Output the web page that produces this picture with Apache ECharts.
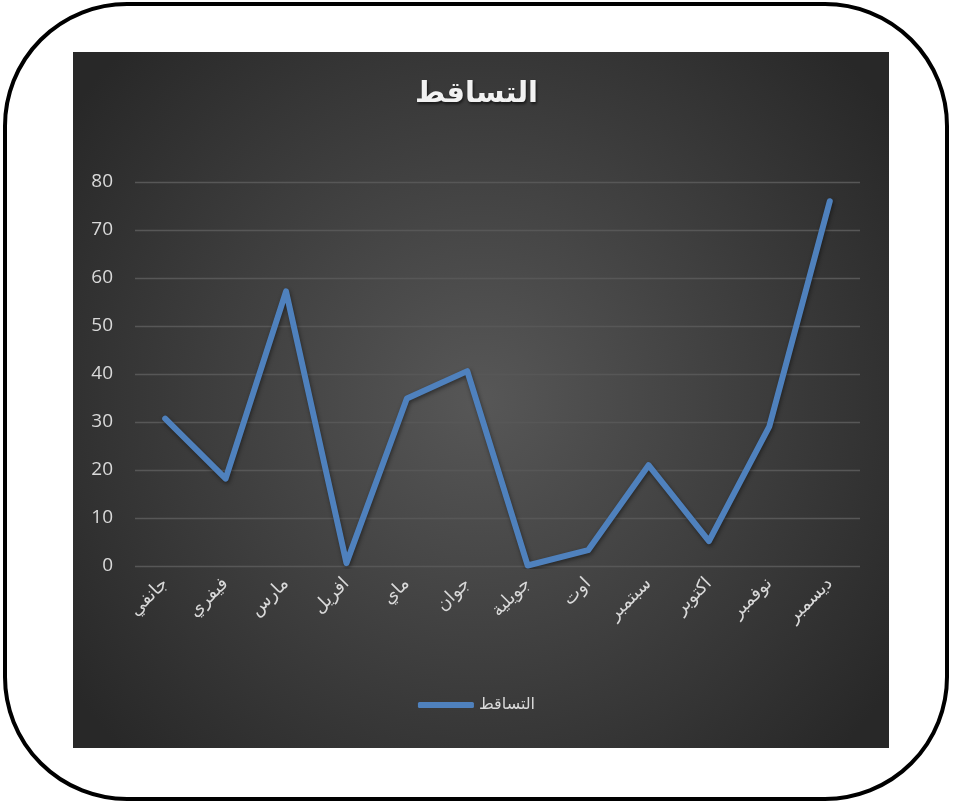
<!DOCTYPE html>
<html>
<head>
<meta charset="utf-8">
<script src="https://cdn.jsdelivr.net/npm/echarts@6/dist/echarts.min.js"></script>
<style>
  html, body { margin: 0; padding: 0; background: #ffffff; }
  #chart { width: 953px; height: 805px; }
</style>
</head>
<body>
<div id="chart"></div>
<script>
// Monthly precipitation
const months = ['جانفي', 'فيفري', 'مارس', 'افريل', 'ماي', 'جوان', 'جويلية', 'اوت', 'سبتمبر', 'اكتوبر', 'نوفمبر', 'ديسمبر'];
const precipitation = [30.7, 18.2, 57.2, 0.6, 34.9, 40.6, 0.1, 3.3, 21.0, 5.2, 29.1, 76.0];
const seriesName = 'التساقط';
const titleText = 'التساقط';

const chart = echarts.init(document.getElementById('chart'), null, { renderer: 'canvas' });

const option = {
  backgroundColor: '#ffffff',
  animation: false,
  graphic: [
    {
      type: 'rect',
      z: -10,
      shape: { x: 5, y: 4, width: 942, height: 795, r: 122 },
      style: { fill: '#ffffff', stroke: '#000000', lineWidth: 4 }
    },
    {
      type: 'rect',
      z: -9,
      shape: { x: 73, y: 52, width: 816, height: 696 },
      style: {
        fill: {
          type: 'radial', x: 0.5, y: 0.5, r: 0.72,
          colorStops: [
            { offset: 0, color: '#575757' },
            { offset: 1, color: '#282828' }
          ]
        }
      }
    }
  ],
  title: {
    text: titleText,
    left: 'center',
    top: 75,
    textStyle: {
      color: '#f2f2f2',
      fontSize: 29,
      fontWeight: 'bold',
      fontFamily: 'DejaVu Sans',
      textShadowColor: 'rgba(0,0,0,0.6)',
      textShadowBlur: 3,
      textShadowOffsetX: 1,
      textShadowOffsetY: 2
    }
  },
  legend: {
    data: [seriesName],
    bottom: 87,
    left: 'center',
    itemWidth: 56,
    itemHeight: 6,
    itemGap: 2,
    icon: 'roundRect',
    textStyle: { color: '#d9d9d9', fontSize: 16, fontFamily: 'DejaVu Sans' }
  },
  grid: { left: 135, right: 93, top: 182, bottom: 239 },
  xAxis: {
    type: 'category',
    data: months,
    boundaryGap: true,
    axisLine: { show: false },
    axisTick: { show: false },
    axisLabel: {
      rotate: 45,
      color: '#d9d9d9',
      fontSize: 18,
      fontFamily: 'DejaVu Sans',
      margin: 15,
      interval: 0
    }
  },
  yAxis: {
    type: 'value',
    min: 0,
    max: 80,
    interval: 10,
    axisLine: { show: false },
    axisTick: { show: false },
    axisLabel: {
      color: '#d9d9d9',
      fontSize: 19,
      fontFamily: 'Open Sans',
      margin: 22
    },
    splitLine: { lineStyle: { color: '#575757', width: 1.3 } }
  },
  series: [
    {
      name: seriesName,
      type: 'line',
      data: precipitation,
      showSymbol: false,
      symbol: 'none',
      smooth: false,
      itemStyle: { color: '#4f81bd' },
      lineStyle: {
        color: '#4f81bd',
        width: 6,
        cap: 'round',
        join: 'round',
        shadowColor: 'rgba(0,0,0,0.45)',
        shadowBlur: 4,
        shadowOffsetX: 1,
        shadowOffsetY: 2
      }
    }
  ]
};

chart.setOption(option);
</script>
</body>
</html>
